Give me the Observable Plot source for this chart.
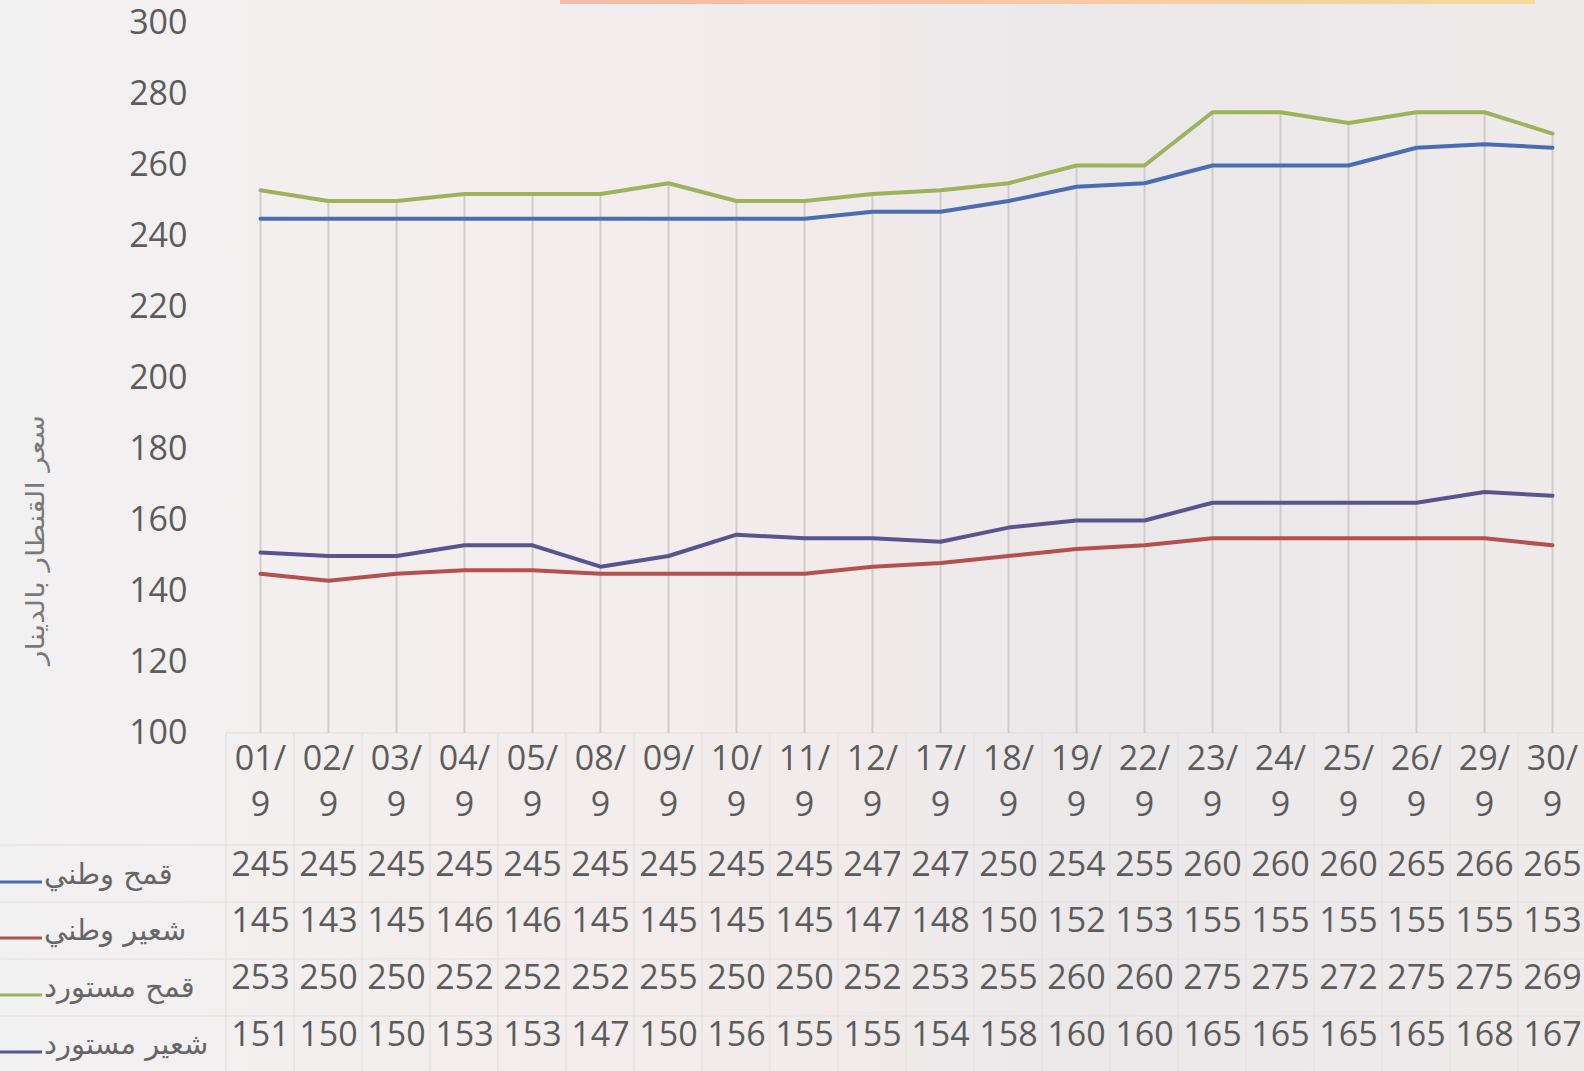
<!DOCTYPE html>
<html>
<head>
<meta charset="utf-8">
<script src="https://cdn.jsdelivr.net/npm/d3@7"></script>
<script src="https://cdn.jsdelivr.net/npm/@observablehq/plot@0.6"></script>
<style>
  html, body { margin: 0; padding: 0; }
  body {
    width: 1584px; height: 1071px; overflow: hidden; position: relative;
    background: linear-gradient(90deg, #f2f1f2 0%, #f4eeee 30%, #f2ebeb 50%, #ebe8ea 70%, #efebeb 100%);
  }
  #strip { position: absolute; top: 0; left: 560px; width: 975px; height: 4px;
    background: linear-gradient(90deg, #f7b9ab, #f6c9a6 50%, #f4dc9c); }
  #chart { position: absolute; left: 0; top: 0; }
</style>
</head>
<body>
<div id="strip"></div>
<div id="chart"></div>
<script>
// ---- data ----
const categories = ["01/9","02/9","03/9","04/9","05/9","08/9","09/9","10/9","11/9","12/9",
                    "17/9","18/9","19/9","22/9","23/9","24/9","25/9","26/9","29/9","30/9"];
const seriesNames = ["قمح وطني", "شعير وطني", "قمح مستورد", "شعير مستورد"];
const qamhWatani   = [245,245,245,245,245,245,245,245,245,247,247,250,254,255,260,260,260,265,266,265];
const shaeerWatani = [145,143,145,146,146,145,145,145,145,147,148,150,152,153,155,155,155,155,155,153];
const qamhMustawrad   = [253,250,250,252,252,252,255,250,250,252,253,255,260,260,275,275,272,275,275,269];
const shaeerMustawrad = [151,150,150,153,153,147,150,156,155,155,154,158,160,160,165,165,165,165,168,167];
const seriesValues = [qamhWatani, shaeerWatani, qamhMustawrad, shaeerMustawrad];
const seriesColors = ["#4a6db2", "#b4504e", "#9cb25c", "#58548f"];
const yTicks = [100,120,140,160,180,200,220,240,260,280,300];
const yLabel = "سعر القنطار بالدينار";

// ---- derived tables ----
const long = [];
seriesNames.forEach((s, i) => categories.forEach((c, j) => long.push({series: s, cat: c, value: seriesValues[i][j]})));
const drop = categories.map((c, j) => ({cat: c, max: d3.max(seriesValues, v => v[j])}));

// ---- layout ----
const W = 1584, H = 1071;
const yTop = 23, yBottom = 733;
const rowCenters = [875, 931, 988, 1045];
const labelCenters = [769, 815];
const numFont = "'Open Sans', sans-serif";
const arFont = "'DejaVu Sans', sans-serif";
const textColor = "#5c5c5c";
const borderColor = "#e3dfdf";

// data-table cell borders, legend keys + row labels, rotated y-axis title
function decorations() {
  return (index, scales) => {
    const g = d3.create("svg:g");
    const xs = categories.map(c => scales.x(c));
    const step = xs[1] - xs[0];
    const left = xs[0] - step / 2;
    [yBottom, 845, 902, 959, 1016].forEach(y => g.append("line")
      .attr("x1", y === yBottom ? left : 0).attr("x2", W).attr("y1", y).attr("y2", y)
      .attr("stroke", borderColor).attr("stroke-width", 1));
    xs.forEach(x => g.append("line").attr("x1", x - step / 2).attr("x2", x - step / 2)
      .attr("y1", yBottom).attr("y2", H).attr("stroke", borderColor).attr("stroke-width", 1));
    seriesNames.forEach((name, i) => {
      const cy = rowCenters[i];
      g.append("line").attr("x1", 0).attr("x2", 42).attr("y1", cy + 7).attr("y2", cy + 7)
        .attr("stroke", seriesColors[i]).attr("stroke-width", 3);
      g.append("text").attr("x", 44).attr("y", cy).attr("dy", "0.3em")
        .attr("text-anchor", "start").attr("fill", "#666")
        .attr("font-family", arFont).attr("font-size", 29).text(name);
    });
    g.append("text").attr("transform", "translate(44,540) rotate(-90)")
      .attr("text-anchor", "middle").attr("fill", "#7a7a7a")
      .attr("font-family", arFont).attr("font-size", 25)
      .attr("textLength", 250).attr("lengthAdjust", "spacingAndGlyphs").text(yLabel);
    return g.node();
  };
}

const marks = [
  decorations(),
  Plot.ruleX(drop, {x: "cat", y1: 100, y2: "max", stroke: "#d2cdcd", strokeWidth: 2}),
  Plot.text(yTicks, {y: d => d, text: d => String(d), frameAnchor: "left", textAnchor: "end", dx: -13,
    fontSize: 34, fill: textColor, fontFamily: numFont}),
  // two-line category labels: "01/" above "9"
  ...[0, 1].map(k => Plot.text(categories, {x: d => d,
    text: d => k === 0 ? d.slice(0, d.indexOf("/") + 1) : d.slice(d.indexOf("/") + 1),
    frameAnchor: "bottom", dy: labelCenters[k] - yBottom, fontSize: 34, fill: textColor, fontFamily: numFont})),
  Plot.line(long, {x: "cat", y: "value", stroke: "series", strokeWidth: 4, curve: "linear"}),
  ...seriesValues.map((vals, i) => Plot.text(categories, {x: d => d, text: (d, j) => String(vals[j]),
    frameAnchor: "bottom", dy: rowCenters[i] - yBottom, fontSize: 34, fill: textColor, fontFamily: numFont}))
];

const chart = Plot.plot({
  width: W, height: H,
  marginTop: yTop, marginBottom: H - yBottom, marginLeft: 200, marginRight: 20,
  style: {background: "transparent", overflow: "visible"},
  x: {type: "point", domain: categories, range: [260, 1552], padding: 0, axis: null},
  y: {domain: [100, 300], range: [yBottom, yTop], axis: null},
  color: {domain: seriesNames, range: seriesColors},
  marks
});
document.getElementById("chart").appendChild(chart);
</script>
</body>
</html>
